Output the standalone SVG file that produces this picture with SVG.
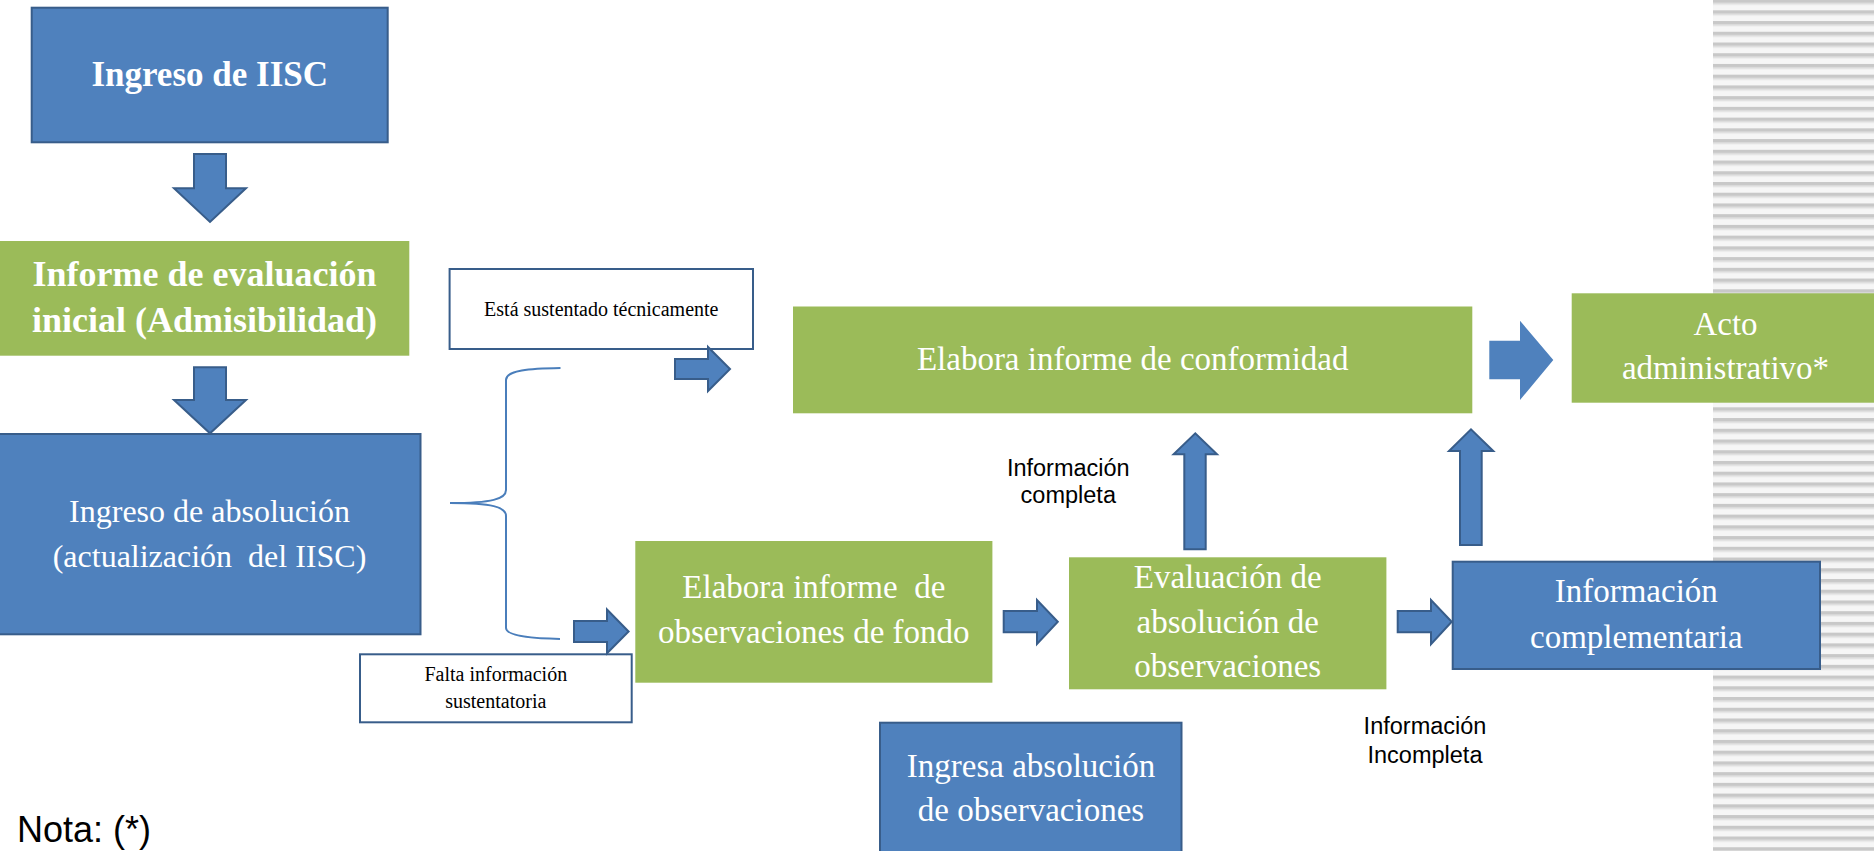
<svg xmlns="http://www.w3.org/2000/svg" width="1874" height="851" viewBox="0 0 1874 851">
<style>
.blue{fill:#4F81BD;stroke:#385D8A;stroke-width:2}
.green{fill:#9BBB59;stroke:none}
.note{fill:#ffffff;stroke:#385D8A;stroke-width:2}
.arr{fill:#4F81BD;stroke:#385D8A;stroke-width:2;stroke-linejoin:miter}
.arrflat{fill:#4F81BD;stroke:none}
.brace{fill:none;stroke:#4A7EBB;stroke-width:2}
.wt{font-family:"Liberation Serif","Times New Roman",serif;fill:#ffffff;text-anchor:middle}
.wtb{font-family:"Liberation Serif","Times New Roman",serif;fill:#ffffff;text-anchor:middle;font-weight:bold}
.bt{font-family:"Liberation Serif","Times New Roman",serif;fill:#000000;text-anchor:middle}
.st{font-family:"Liberation Sans",Arial,sans-serif;fill:#000000;text-anchor:middle;font-size:23.5px}
</style>
<defs>
<pattern id="stripes" x="0" y="10.3" width="20" height="10.73" patternUnits="userSpaceOnUse">
<rect x="0" y="0" width="20" height="10.73" fill="#f6f6f6"/>
<rect x="0" y="0" width="20" height="3.6" fill="#c8c8c8"/>
<rect x="0" y="3.6" width="20" height="1.6" fill="#e2e2e2"/>
</pattern>
</defs>
<rect x="0" y="0" width="1874" height="851" fill="#ffffff"/>
<rect id="stripe-bg" x="1713" y="0" width="161" height="851" fill="url(#stripes)"/>

<g id="ingreso-iisc">
<rect class="blue" x="31.7" y="7.7" width="356" height="134.6"/>
<text class="wtb" x="209.7" y="86" font-size="35">Ingreso de IISC</text>
</g>
<g id="informe-evaluacion">
<rect class="green" x="-1" y="241" width="410.3" height="114.7"/>
<text class="wtb" x="204.5" y="286" font-size="36">Informe de evaluación</text>
<text class="wtb" x="204.5" y="331.7" font-size="36">inicial (Admisibilidad)</text>
</g>
<g id="ingreso-absolucion">
<rect class="blue" x="-2" y="434" width="422.5" height="200.3"/>
<text class="wt" x="209.5" y="521.7" font-size="32">Ingreso de absolución</text>
<text class="wt" x="209.5" y="566.7" font-size="32" xml:space="preserve">(actualización  del IISC)</text>
</g>
<g id="esta-sustentado">
<rect class="note" x="449.6" y="269" width="303.4" height="80"/>
<text class="bt" x="601.3" y="315.7" font-size="20">Está sustentado técnicamente</text>
</g>
<g id="falta-informacion">
<rect class="note" x="360" y="654.3" width="271.7" height="68"/>
<text class="bt" x="495.8" y="681" font-size="20">Falta información</text>
<text class="bt" x="495.8" y="708" font-size="20">sustentatoria</text>
</g>
<g id="elabora-conformidad">
<rect class="green" x="793" y="306.5" width="679.3" height="106.8"/>
<text class="wt" x="1132.7" y="370" font-size="33">Elabora informe de conformidad</text>
</g>
<g id="acto-administrativo">
<rect class="green" x="1571.7" y="293.3" width="310" height="109.4"/>
<text class="wt" x="1725.5" y="335" font-size="33">Acto</text>
<text class="wt" x="1725.5" y="379.3" font-size="33">administrativo*</text>
</g>
<g id="elabora-observaciones">
<rect class="green" x="635.3" y="541" width="357.1" height="141.7"/>
<text class="wt" x="813.8" y="598.3" font-size="33" xml:space="preserve">Elabora informe  de</text>
<text class="wt" x="813.8" y="642.7" font-size="33">observaciones de fondo</text>
</g>
<g id="evaluacion-absolucion">
<rect class="green" x="1069" y="557.3" width="317.4" height="132"/>
<text class="wt" x="1227.7" y="588.3" font-size="33">Evaluación de</text>
<text class="wt" x="1227.7" y="632.7" font-size="33">absolución de</text>
<text class="wt" x="1227.7" y="676.7" font-size="33">observaciones</text>
</g>
<g id="informacion-complementaria">
<rect class="blue" x="1452.7" y="561.7" width="367.3" height="107.3"/>
<text class="wt" x="1636.3" y="602.3" font-size="33">Información</text>
<text class="wt" x="1636.3" y="647.7" font-size="33">complementaria</text>
</g>
<g id="ingresa-absolucion">
<rect class="blue" x="880" y="722.7" width="301.5" height="140"/>
<text class="wt" x="1031" y="777.3" font-size="33">Ingresa absolución</text>
<text class="wt" x="1031" y="820.7" font-size="33">de observaciones</text>
</g>
<g id="label-completa">
<text class="st" x="1068.3" y="476">Información</text>
<text class="st" x="1068.3" y="503.3">completa</text>
</g>
<g id="label-incompleta">
<text class="st" x="1425" y="734.3">Información</text>
<text class="st" x="1425" y="762.7">Incompleta</text>
</g>
<g id="nota">
<text font-family="'Liberation Sans',Arial,sans-serif" font-size="36" x="17" y="842" fill="#000000">Nota: (*)</text>
</g>

<g id="connectors">
<polygon class="arr" points="194,154 226,154 226,188.3 246,188.3 210,222 174,188.3 194,188.3"/>
<polygon class="arr" points="194,367.3 226,367.3 226,400 246,400 210,433.3 174,400 194,400"/>
<path class="brace" d="M560.5,368 C530,368.5 506,370 506,380 L506,490 C506,499 492,503 450,503 C492,503 506,507 506,516 L506,628 C506,636 530,638.5 560,639"/>
<polygon class="arr" points="675,359 708,359 708,347 730,369 708,391 708,379 675,379"/>
<polygon class="arr" points="574,621 607,621 607,609.5 628.6,631.5 607,653.3 607,642 574,642"/>
<polygon class="arr" points="1003.7,611 1037,611 1037,600 1057.8,621.7 1037,644 1037,632.3 1003.7,632.3"/>
<polygon class="arr" points="1397.7,611 1431,611 1431,600 1451.7,621.7 1431,644.3 1431,632.3 1397.7,632.3"/>
<polygon class="arrflat" points="1489.3,340.7 1520,340.7 1520,320.7 1553.3,360 1520,400 1520,379.3 1489.3,379.3"/>
<polygon class="arr" points="1184.3,549.3 1184.3,454.3 1173.6,454.3 1195.3,433.3 1217,454.3 1205.7,454.3 1205.7,549.3"/>
<polygon class="arr" points="1460,545 1460,451 1449,451 1471,429.3 1493.3,451 1481.7,451 1481.7,545"/>
</g>
</svg>
